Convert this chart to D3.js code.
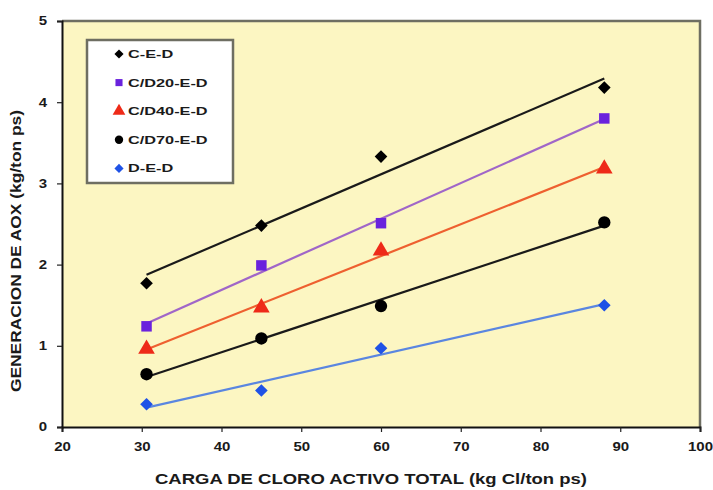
<!DOCTYPE html>
<html><head><meta charset="utf-8">
<script src="https://cdn.jsdelivr.net/npm/d3@7"></script>
<style>body{margin:0;background:#fff}svg{display:block}text{font-family:"Liberation Sans",Arial,sans-serif;font-weight:bold;fill:#1a1a1a}</style>
</head><body><svg id="c" width="713" height="490"></svg>
<script>
const xValues = [30.6, 45, 60, 88];
const seriesNames = ["C-E-D", "C/D20-E-D", "C/D40-E-D", "C/D70-E-D", "D-E-D"];
const ced    = [1.77, 2.48, 3.33, 4.18];
const cd20   = [1.24, 1.99, 2.51, 3.80];
const cd40   = [0.96, 1.47, 2.17, 3.18];
const cd70   = [0.65, 1.09, 1.49, 2.52];
const ded    = [0.28, 0.45, 0.97, 1.50];
const xTicks = [20, 30, 40, 50, 60, 70, 80, 90, 100];
const yTicks = [0, 1, 2, 3, 4, 5];

const styles = [
  {sym: d3.symbolSquare, rot: 45, fill: "#000", line: "#1a1a1a", size: 80, lsize: 42},
  {sym: d3.symbolSquare, rot: 0, fill: "#6a22dd", line: "#a066c8", size: 110, lsize: 50},
  {sym: d3.symbolTriangle, rot: 0, fill: "#ee2a18", line: "#ee6030", size: 120, lsize: 70},
  {sym: d3.symbolCircle, rot: 0, fill: "#000", line: "#1a1a1a", size: 120, lsize: 55},
  {sym: d3.symbolSquare, rot: 45, fill: "#1f52e6", line: "#5a86e0", size: 80, lsize: 42}
];
const allSeries = [ced, cd20, cd40, cd70, ded];

const svg = d3.select("#c");
const L = 62, R = 700, T = 21, B = 427;
const x = d3.scaleLinear().domain([20, 100]).range([L, R]);
const y = d3.scaleLinear().domain([0, 5]).range([B, T]);

svg.append("rect").attr("x", L).attr("y", T).attr("width", R - L).attr("height", B - T).attr("fill", "#fcf6c2");
svg.append("path").attr("d", `M${L},${T}H${R}V${B}`).attr("fill", "none").attr("stroke", "#6e6e62").attr("stroke-width", 2.5);

function stretch(sel, f) {
  sel.each(function () { const w = this.getComputedTextLength(); d3.select(this).attr("textLength", w * f).attr("lengthAdjust", "spacingAndGlyphs"); });
}

const xa = svg.append("g").attr("transform", `translate(0,${B})`)
  .call(d3.axisBottom(x).tickValues(xTicks).tickSize(5).tickPadding(10).tickFormat(d3.format("d")));
const ya = svg.append("g").attr("transform", `translate(${L},0)`)
  .call(d3.axisLeft(y).tickValues(yTicks).tickSize(5).tickPadding(10).tickFormat(d3.format("d")));
[xa, ya].forEach(a => {
  a.select(".domain").attr("stroke", "#111").attr("stroke-width", 2);
  a.selectAll(".tick line").attr("stroke", "#222").attr("stroke-width", 1.2);
  a.selectAll(".tick text").attr("font-size", 12).attr("font-family", "Liberation Sans, Arial, sans-serif").attr("font-weight", "bold").attr("fill", "#2a2a2a");
});
stretch(xa.selectAll(".tick text"), 1.25);
stretch(ya.selectAll(".tick text"), 1.25);

const xt = svg.append("text").attr("x", (155 + 587) / 2).attr("y", 484).attr("text-anchor", "middle")
  .attr("font-size", 15).text("CARGA DE CLORO ACTIVO TOTAL (kg Cl/ton ps)");
xt.attr("textLength", 432).attr("lengthAdjust", "spacingAndGlyphs");
const yt = svg.append("text").attr("transform", "translate(21,251) rotate(-90)").attr("text-anchor", "middle")
  .attr("font-size", 14).text("GENERACION DE AOX (kg/ton ps)");
yt.attr("textLength", 282).attr("lengthAdjust", "spacingAndGlyphs");

allSeries.forEach((vals, i) => {
  const st = styles[i];
  const mx = d3.mean(xValues), my = d3.mean(vals);
  let sxy = 0, sxx = 0;
  xValues.forEach((xv, j) => { sxy += (xv - mx) * (vals[j] - my); sxx += (xv - mx) * (xv - mx); });
  const b = sxy / sxx, a = my - b * mx;
  const x0 = d3.min(xValues), x1 = d3.max(xValues);
  svg.append("line").attr("x1", x(x0)).attr("y1", y(a + b * x0)).attr("x2", x(x1)).attr("y2", y(a + b * x1))
    .attr("stroke", st.line).attr("stroke-width", 2.2);
  svg.append("g").selectAll("path").data(vals).join("path")
    .attr("d", d3.symbol().type(st.sym).size(st.size))
    .attr("transform", (d, j) => `translate(${x(xValues[j])},${y(d)}) rotate(${st.rot})`)
    .attr("fill", st.fill);
});

svg.append("rect").attr("x", 87).attr("y", 40).attr("width", 146).attr("height", 143)
  .attr("fill", "#fff").attr("stroke", "#6e6e62").attr("stroke-width", 2.5);
seriesNames.forEach((name, i) => {
  const st = styles[i];
  const cy = 54 + i * 28.6;
  svg.append("path").attr("d", d3.symbol().type(st.sym).size(st.lsize)).attr("transform", `translate(119,${cy}) rotate(${st.rot})`).attr("fill", st.fill);
  const t = svg.append("text").attr("x", 128).attr("y", cy + 4).attr("font-size", 11).text(name);
  stretch(t, 1.48);
});
</script></body></html>
